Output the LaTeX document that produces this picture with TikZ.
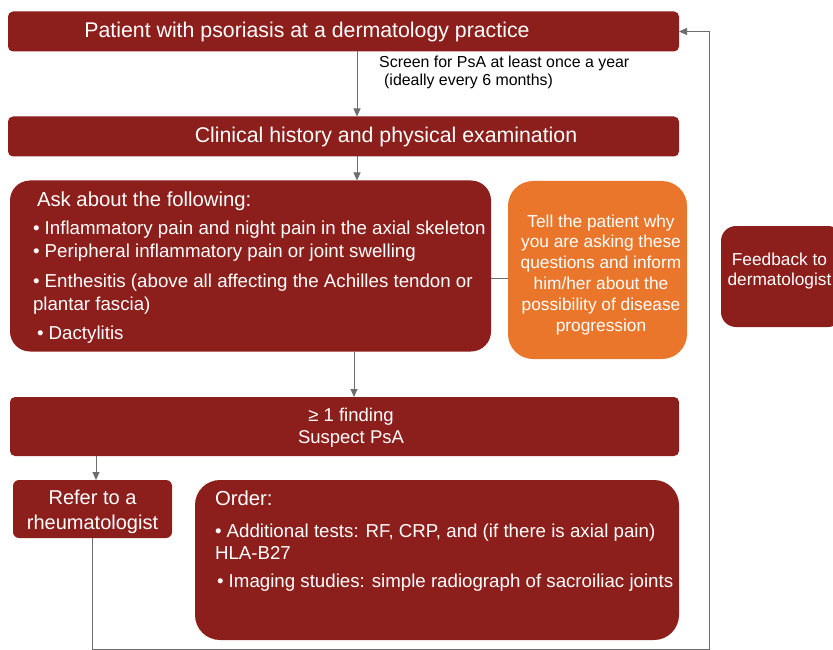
\documentclass[tikz,border=0pt]{standalone}
\usepackage{fontspec}
\setmainfont{Liberation Sans}
\usetikzlibrary{arrows.meta}
\definecolor{dred}{RGB}{140,31,27}
\definecolor{orng}{RGB}{234,118,44}
\definecolor{lgrey}{RGB}{110,110,110}
\tikzset{
  box/.style={fill=dred, draw=none, inner sep=0pt, outer sep=0pt},
  obox/.style={fill=orng, draw=none, inner sep=0pt, outer sep=0pt},
  txt/.style={text=white, inner sep=0pt, outer sep=0pt},
  conn/.style={draw=lgrey, line width=0.9pt},
  arr/.style={conn, -{Triangle[length=8pt,width=7pt]}},
}
\newcommand{\fs}[2]{\fontsize{#1}{#2}\selectfont}
\begin{document}
\begin{tikzpicture}[x=1pt,y=-1pt]
\useasboundingbox (0,0) rectangle (833,650);

% boxes
\node[box, rounded corners=5pt, minimum width=671pt, minimum height=40pt] (top) at (343.5,31.5) {};
\node[box, rounded corners=5pt, minimum width=671pt, minimum height=40pt] (clin) at (343.5,136.5) {};
\node[box, rounded corners=20pt, minimum width=481pt, minimum height=171pt] (ask) at (250.5,266) {};
\node[obox, rounded corners=25pt, minimum width=179pt, minimum height=178pt] (tell) at (597.5,270) {};
\node[box, rounded corners=15pt, minimum width=122pt, minimum height=101pt] (feed) at (782,276.5) {};
\node[box, rounded corners=5pt, minimum width=669pt, minimum height=59pt] (susp) at (344.5,426.5) {};
\node[box, rounded corners=6pt, minimum width=159pt, minimum height=58pt] (refer) at (92.5,509) {};
\node[box, rounded corners=25pt, minimum width=484pt, minimum height=160pt] (order) at (437,560) {};

% texts
\node[txt, anchor=base] (ttop) at (307,38) {\fs{21.3}{24}Patient with psoriasis at a dermatology practice};
\node[txt, anchor=base] (tclin) at (386,143) {\fs{21.3}{24}Clinical history and physical examination};
\node[inner sep=0pt, anchor=base west] (scr1) at (379,68) {\fs{15.9}{18}Screen for PsA at least once a year};
\node[inner sep=0pt, anchor=base west] (scr2) at (384,86) {\fs{15.9}{18}(ideally every 6 months)};

\node[txt, anchor=base west] (ask0) at (37,207) {\fs{20.3}{24}Ask about the following:};
\node[txt, anchor=base west] (ask1) at (33,234.5) {\fs{18.7}{22}• Inflammatory pain and night pain in the axial skeleton};
\node[txt, anchor=base west] (ask2) at (33,257.5) {\fs{18.7}{22}• Peripheral inflammatory pain or joint swelling};
\node[txt, anchor=base west] (ask3) at (33,287.5) {\fs{18.7}{22}• Enthesitis (above all affecting the Achilles tendon or};
\node[txt, anchor=base west] (ask4) at (33,310.5) {\fs{18.7}{22}plantar fascia)};
\node[txt, anchor=base west] (ask5) at (37,339.5) {\fs{18.7}{22}• Dactylitis};

\node[txt, align=center, anchor=base, font=\fs{17.3}{20.8}] (ttell) at (601,331) {Tell the patient why\\you are asking these\\questions and inform\\him/her about the\\possibility of disease\\progression};

\node[txt, align=center, anchor=base, font=\fs{17.3}{20}] (tfeed) at (779.5,285) {Feedback to\\dermatologist};

\node[txt, align=center, anchor=base, font=\fs{18.5}{22}] (tsusp) at (351,443) {≥ 1 finding\\Suspect PsA};

\node[txt, align=center, anchor=base, font=\fs{20}{25}] (trefer) at (92.5,529) {Refer to a\\rheumatologist};

\node[txt, anchor=base west] (ord0) at (215,505) {\fs{20.3}{24}Order:};
\node[txt, anchor=base west] (ord1) at (215,537) {\fs{18.7}{22}• Additional tests: RF, CRP, and (if there is axial pain)};
\node[txt, anchor=base west] (ord2) at (215,559) {\fs{18.7}{22}HLA-B27};
\node[txt, anchor=base west] (ord3) at (217,587) {\fs{18.7}{22}• Imaging studies: simple radiograph of sacroiliac joints};

% helper coordinates
\coordinate (xa) at (357,0);
\coordinate (xb) at (354,0);
\coordinate (xc) at (96,0);
\coordinate (ly) at (0,278);
\coordinate (loop) at (709,649);

% connectors
\draw[arr] (top.south -| xa) -- (clin.north -| xa);
\draw[arr] (clin.south -| xa) -- (ask.north -| xa);
\draw[conn] (ask.east |- ly) -- (tell.west |- ly);
\draw[arr] (ask.south -| xb) -- (susp.north -| xb);
\draw[arr] (susp.south -| xc) -- (refer.north -| xc);
\draw[arr] (refer.south) |- (loop) |- (top.east);
\end{tikzpicture}
\end{document}
